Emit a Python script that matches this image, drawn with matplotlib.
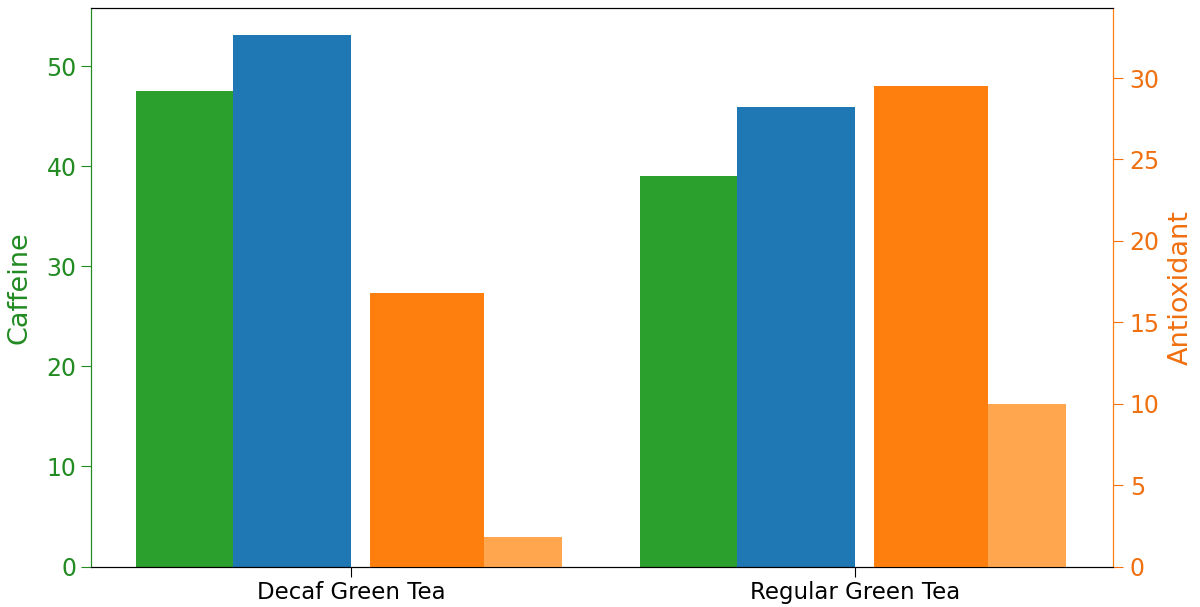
import matplotlib
matplotlib.use("Agg")
import matplotlib.pyplot as plt
import numpy as np

categories = ["Decaf Green Tea", "Regular Green Tea"]
caffeine_a = [47.5, 39.0]      # green, left axis
caffeine_b = [53.1, 45.9]      # blue, left axis
antiox_a = [16.8, 29.5]        # orange, right axis
antiox_b = [1.8, 10.0]         # light orange, right axis

green = "#2ca02c"
blue = "#1f77b4"
orange = "#ff7f0e"
light_orange = "#ffa64f"
green_txt = "#228b22"
orange_txt = "#f07010"

fig = plt.figure(figsize=(12, 6.07), dpi=100)
ax = fig.add_axes([91 / 1200, 40.5 / 607, (1113 - 91) / 1200, (566.5 - 8) / 607])
ax2 = ax.twinx()

x = np.arange(len(categories))
ax.bar(x - 0.426, caffeine_a, width=0.191, align="edge", color=green)
ax.bar(x - 0.235, caffeine_b, width=0.235, align="edge", color=blue)
ax2.bar(x + 0.037, antiox_a, width=0.227, align="edge", color=orange)
ax2.bar(x + 0.264, antiox_b, width=0.154, align="edge", color=light_orange)

ax.set_xlim(-0.516, 1.512)
ax.set_ylim(0, 55.8)
ax2.set_ylim(0, 34.3)

ax.set_xticks(x)
ax.set_xticklabels(categories, fontsize=16.5)
ax.set_yticks([0, 10, 20, 30, 40, 50])
ax2.set_yticks([0, 5, 10, 15, 20, 25, 30])

ax.set_ylabel("Caffeine", color=green_txt, fontsize=19.5, labelpad=10)
ax2.set_ylabel("Antioxidant", color=orange_txt, fontsize=19.5, labelpad=6)

ax.tick_params(axis="y", colors=green_txt, labelsize=17, length=7)
ax2.tick_params(axis="y", colors=orange_txt, labelsize=17, length=7, pad=5)
ax.tick_params(axis="x", labelsize=16.5, length=7)

ax.spines["left"].set_color(green_txt)
ax2.spines["left"].set_color(green_txt)
ax2.spines["right"].set_color(orange)
ax.spines["right"].set_color(orange)
for a in (ax, ax2):
    a.spines["top"].set_color("black")
    a.spines["bottom"].set_color("black")

fig.savefig("out.png", dpi=100)
